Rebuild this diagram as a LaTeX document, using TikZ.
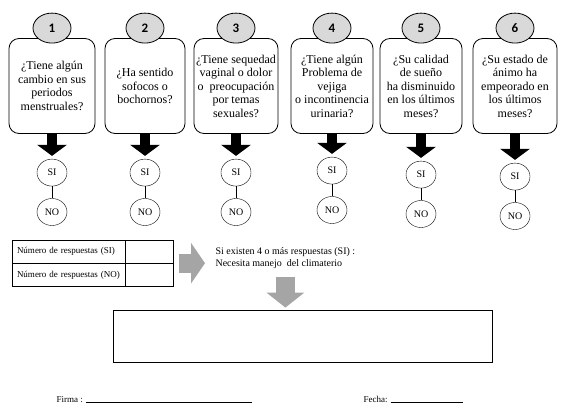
\documentclass[tikz,border=0pt]{standalone}
\usepackage{fontspec}
\setmainfont{Liberation Serif}
\newfontfamily\numfont{Carlito}
\usetikzlibrary{shapes.geometric,arrows.meta,positioning}
\definecolor{numgray}{HTML}{D9D9D9}
\definecolor{arrowgray}{HTML}{A5A5A5}

\begin{document}
\begin{tikzpicture}[x=1pt,y=-1pt,
    question/.style={draw, thick, rounded corners=10pt, align=center, minimum height=95pt, inner sep=1pt, font=\fontsize{12}{13.5}\selectfont},
    numlbl/.style={draw, thick, ellipse, fill=numgray, minimum width=38pt, minimum height=30pt, inner sep=0pt, font=\numfont\bfseries\fontsize{13}{13}\selectfont},
    answer/.style={draw, ellipse, minimum width=30pt, minimum height=27pt, inner sep=0pt, font=\fontsize{10}{10}\selectfont},
    blackarrow/.style={line width=10pt, -{Triangle[width=29pt,length=11pt]}, shorten >=3pt},
    grayarrow/.style={line width=19pt, draw=arrowgray},
    cell/.style={draw, minimum height=23pt, inner sep=0pt, font=\fontsize{9}{9}\selectfont}]
                \useasboundingbox (0,0) rectangle (567,417);

                % Draw the questions
                \node[question, minimum width=86pt] (q1) at (52,86) {¿Tiene algún\\cambio en sus\\periodos\\menstruales?};
                \node[question, minimum width=80pt] (q2) at (145,86) {¿Ha sentido\\sofocos o\\bochornos?};
                \node[question, minimum width=84pt] (q3) at (236,86) {¿Tiene sequedad\\vaginal o dolor\\o \ preocupación\\por temas\\sexuales?};
                \node[question, minimum width=82pt] (q4) at (332,86) {¿Tiene algún\\Problema de\\vejiga\\o incontinencia\\urinaria?};
                \node[question, minimum width=82pt] (q5) at (421,86) {¿Su calidad\\de sueño\\ha disminuido\\en los últimos\\meses?};
                \node[question, minimum width=84pt] (q6) at (515,86) {¿Su estado de\\ánimo ha\\empeorado en\\los últimos\\meses?};

                % Draw the numbers
                \node[numlbl] (n1) at ([yshift=10pt]q1.north) {1};
                \node[numlbl] (n2) at ([yshift=10pt]q2.north) {2};
                \node[numlbl] (n3) at ([yshift=10pt]q3.north) {3};
                \node[numlbl] (n4) at ([yshift=10pt]q4.north) {4};
                \node[numlbl] (n5) at ([yshift=10pt]q5.north) {5};
                \node[numlbl] (n6) at ([yshift=10pt]q6.north) {6};

                % Draw the answers
                \node[answer, below=25pt of q1] (si1) {SI};
                \node[answer, below=25pt of q2] (si2) {SI};
                \node[answer, below=25pt of q3] (si3) {SI};
                \node[answer, below=23pt of q4] (si4) {SI};
                \node[answer, below=27pt of q5] (si5) {SI};
                \node[answer, below=29pt of q6] (si6) {SI};
                \node[answer, below=12pt of si1] (no1) {NO};
                \node[answer, below=12pt of si2] (no2) {NO};
                \node[answer, below=12pt of si3] (no3) {NO};
                \node[answer, below=12pt of si4] (no4) {NO};
                \node[answer, below=12pt of si5] (no5) {NO};
                \node[answer, below=12pt of si6] (no6) {NO};

                % Draw the black arrows and links
                \draw[blackarrow] (q1) -- (si1);
                \draw[blackarrow] (q2) -- (si2);
                \draw[blackarrow] (q3) -- (si3);
                \draw[blackarrow] (q4) -- (si4);
                \draw[blackarrow] (q5) -- (si5);
                \draw[blackarrow] (q6) -- (si6);
                \draw (si1) -- (no1);
                \draw (si2) -- (no2);
                \draw (si3) -- (no3);
                \draw (si4) -- (no4);
                \draw (si5) -- (no5);
                \draw (si6) -- (no6);

                % Draw the table
                \node[cell, minimum width=113pt, text width=103pt, align=left] (nsi) at (68.5,251.5) {Número de respuestas (SI)};
                \node[cell, minimum width=48pt, right=0pt of nsi] (vsi) {};
                \node[cell, minimum width=113pt, text width=103pt, align=left, below=0pt of nsi] (nno) {Número de respuestas (NO)};
                \node[cell, minimum width=48pt, right=0pt of nno] (vno) {};

                % Draw the result
                \node[anchor=west, align=left, font=\fontsize{10}{11.5}\selectfont] (msg) at (212,258) {Si existen 4 o más respuestas (SI) :\\Necesita manejo \ del climaterio};
                \node[draw, thick, minimum width=379pt, minimum height=52pt] (res) at (302.5,336) {};
                \draw[grayarrow, -{Triangle[width=40pt,length=14pt]}, shorten <=5pt, shorten >=7pt] (vsi.south east) -- (msg.west |- vsi.south east);
                \draw[grayarrow, -{Triangle[width=37pt,length=15pt]}, shorten <=5pt, shorten >=2pt] (msg.south) -- (msg.south |- res.north);

                % Draw the signature
                \node[anchor=base west, font=\fontsize{9}{9}\selectfont] (firma) at (53,402) {Firma : \rule{166pt}{0.4pt}};
                \node[anchor=base west, font=\fontsize{9}{9}\selectfont] (fecha) at (360,402) {Fecha: \rule{72pt}{0.4pt}};
              \end{tikzpicture}
\end{document}
